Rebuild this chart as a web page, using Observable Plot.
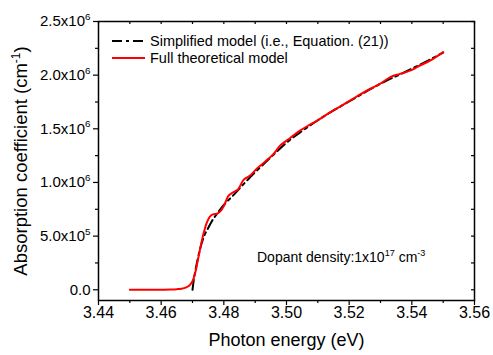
<!DOCTYPE html>
<html>
<head>
<meta charset="utf-8">
<script src="https://cdn.jsdelivr.net/npm/d3@7"></script>
<script src="https://cdn.jsdelivr.net/npm/@observablehq/plot@0.6"></script>
<style>
  html, body { margin: 0; padding: 0; background: white; }
  svg text { font-family: "Liberation Sans", Arial, sans-serif; }
</style>
</head>
<body>
<script>
// ---- Data ----
const energyFull = [3.450, 3.455, 3.460, 3.463, 3.465, 3.4665, 3.468, 3.469, 3.470, 3.4708, 3.4719, 3.4735, 3.4746, 3.4755, 3.4765, 3.4778, 3.4790, 3.4800, 3.4815, 3.4830, 3.4845, 3.4863, 3.4884, 3.4905, 3.4921, 3.4942, 3.4960, 3.4980, 3.5012, 3.5043, 3.5075, 3.5107, 3.5139, 3.5171, 3.5203, 3.5234, 3.5266, 3.5298, 3.5330, 3.5362, 3.5394, 3.5426, 3.5458, 3.5500];
const alphaFull = [0, 0, 800, 2500, 5500, 10000, 22000, 40000, 80000, 149000, 304000, 521000, 629000, 680000, 703000, 708000, 735000, 780000, 878000, 909000, 935000, 1024000, 1064000, 1127000, 1167000, 1220000, 1270000, 1344000, 1415000, 1483000, 1539000, 1592000, 1654000, 1707000, 1763000, 1818000, 1871000, 1918000, 1980000, 2012000, 2042000, 2090000, 2135000, 2215000];

const energySimple = [3.4700, 3.4704, 3.4710, 3.4720, 3.4730, 3.4740, 3.4750, 3.4760, 3.4780, 3.4800, 3.4830, 3.4860, 3.4900, 3.4950, 3.5000, 3.5050, 3.5100, 3.5200, 3.5300, 3.5400, 3.5500];
const alphaSimple = [0, 90000, 190000, 330000, 440000, 520000, 575000, 630000, 715000, 790000, 880000, 975000, 1095000, 1235000, 1370000, 1480000, 1580000, 1755000, 1920000, 2060000, 2210000];

const seriesNames = ["Simplified model (i.e., Equation. (21))", "Full theoretical model"];
const seriesColors = ["black", "#ff0000"];

const xTicks = [3.44, 3.46, 3.48, 3.50, 3.52, 3.54, 3.56];
const xTickLabels = ["3.44", "3.46", "3.48", "3.50", "3.52", "3.54", "3.56"];
const xMinorTicks = [3.45, 3.47, 3.49, 3.51, 3.53, 3.55];
const yTicks = [0, 500000, 1000000, 1500000, 2000000, 2500000];
const yTickLabels = ["0.0", "5.0x10^{5}", "1.0x10^{6}", "1.5x10^{6}", "2.0x10^{6}", "2.5x10^{6}"];
const yMinorTicks = [250000, 750000, 1250000, 1750000, 2250000];

const xLabel = "Photon energy (eV)";
const yLabel = "Absorption coefficient (cm^{-1})";
const annotation = "Dopant density:1x10^{17} cm^{-3}";

// ---- Build tables ----
const fullData = energyFull.map((e, i) => ({e, a: alphaFull[i]}));
const simpleData = energySimple.map((e, i) => ({e, a: alphaSimple[i]}));
const allX = [...xTicks, ...xMinorTicks];
const allY = [...yTicks, ...yMinorTicks];
const xFmt = new Map(xTicks.map((t, i) => [t, xTickLabels[i]]));
const yFmt = new Map(yTicks.map((t, i) => [t, yTickLabels[i]]));

const W = 493, H = 355, mL = 98, mR = 19, mT = 21, mB = 55;
const plotW = W - mL - mR, plotH = H - mT - mB;

const chart = Plot.plot({
  width: W, height: H,
  marginLeft: mL, marginRight: mR, marginTop: mT, marginBottom: mB,
  x: {domain: [3.44, 3.56]},
  y: {domain: [-100000, 2500000]},
  style: {fontFamily: "Liberation Sans, Arial, sans-serif", fontSize: "15px", color: "black", background: "white", overflow: "visible"},
  marks: [
    Plot.line(simpleData, {x: "e", y: "a", stroke: seriesColors[0], strokeWidth: 2, strokeDasharray: "10,4,3,4", curve: "monotone-x"}),
    Plot.line(fullData, {x: "e", y: "a", stroke: seriesColors[1], strokeWidth: 2, curve: "catmull-rom"}),
    Plot.frame({stroke: "black", strokeWidth: 1.5}),
    Plot.axisX(xTicks, {tickSize: 5, tickPadding: 1, strokeWidth: 1.2, fontSize: 16, tickFormat: d => xFmt.get(d), label: null}),
    Plot.axisX(xMinorTicks, {tickSize: 3, strokeWidth: 1.2, tickFormat: () => "", label: null}),
    Plot.axisY(yTicks, {tickSize: 5, tickPadding: 3, strokeWidth: 1.2, fontSize: 15, tickFormat: d => yFmt.get(d), label: null}),
    Plot.axisY(yMinorTicks, {tickSize: 3, strokeWidth: 1.2, tickFormat: () => "", label: null}),
    Plot.tickX(allX, {x: d => d, insetBottom: plotH - 3, stroke: "black", strokeWidth: 1.2}),
    Plot.tickY(allY, {y: d => d, insetLeft: plotW - 3, stroke: "black", strokeWidth: 1.2}),
    Plot.text([xLabel], {text: d => d, frameAnchor: "bottom", dy: 45, fontSize: 18, textAnchor: "middle"}),
    Plot.text([yLabel], {text: d => d, frameAnchor: "left", dx: -77, rotate: -90, fontSize: 18.5, textAnchor: "middle"})
  ]
});
document.body.appendChild(chart);

// ---- Legend and annotation ----
const svg = d3.select(chart);
const leg = svg.append("g").attr("text-anchor", "start");
const legRows = [{y: 41, dash: "10,4,3,4"}, {y: 58, dash: null}];
legRows.forEach((r, i) => {
  leg.append("line").attr("x1", 112).attr("x2", 145).attr("y1", r.y).attr("y2", r.y)
    .attr("stroke", seriesColors[i]).attr("stroke-width", 2)
    .attr("stroke-dasharray", r.dash);
  leg.append("text").attr("x", 150).attr("y", r.y + 5.3).attr("text-anchor", "start")
    .attr("font-size", 14.5).attr("fill", "black").text(seriesNames[i]);
});
svg.append("text").attr("x", 257).attr("y", 262).attr("font-size", 14).attr("text-anchor", "start")
  .attr("fill", "black").text(annotation);

// ---- Superscripts: turn "^{..}" into raised tspans ----
function applySup(root) {
  root.querySelectorAll("text").forEach(t => {
    const s = t.textContent;
    if (!s.includes("^{")) return;
    const fs = parseFloat(getComputedStyle(t).fontSize) || 15;
    const shift = fs * 0.42;
    const parts = s.split(/\^\{([^}]*)\}/);
    while (t.firstChild) t.removeChild(t.firstChild);
    let raised = false;
    parts.forEach((p, i) => {
      const isSup = i % 2 === 1;
      if (!p) return;
      const ts = document.createElementNS("http://www.w3.org/2000/svg", "tspan");
      if (isSup) {
        ts.setAttribute("font-size", (fs * 0.65).toFixed(1));
        ts.setAttribute("dy", (-shift).toFixed(1));
        raised = true;
      } else if (raised) {
        ts.setAttribute("dy", shift.toFixed(1));
        raised = false;
      }
      ts.textContent = p;
      t.appendChild(ts);
    });
  });
}
applySup(chart);
</script>
</body>
</html>
